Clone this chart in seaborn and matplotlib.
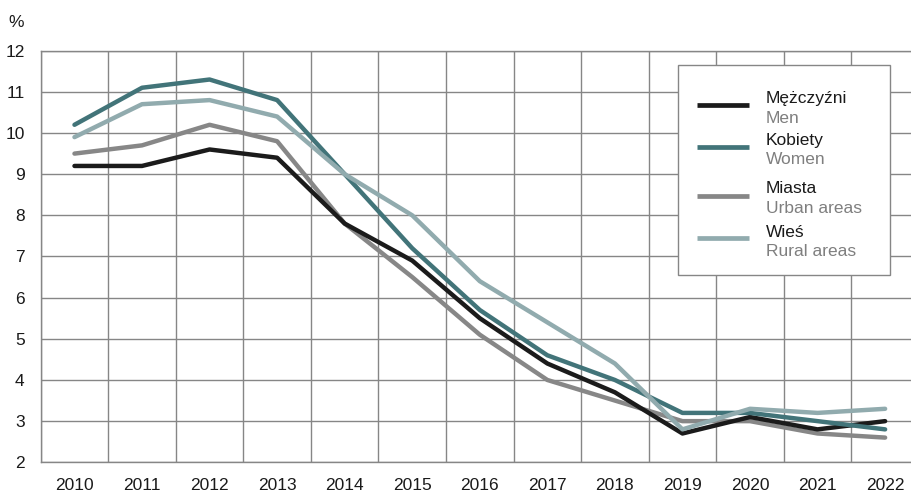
import pandas as pd
import numpy as np
import matplotlib.pyplot as plt
from matplotlib.lines import Line2D
from matplotlib.patches import Rectangle
import seaborn as sns

# Dane (%)
years = list(range(2010, 2023))
men = [9.2, 9.2, 9.6, 9.4, 7.8, 6.9, 5.5, 4.4, 3.7, 2.7, 3.1, 2.8, 3.0]
women = [10.2, 11.1, 11.3, 10.8, 9.0, 7.2, 5.7, 4.6, 4.0, 3.2, 3.2, 3.0, 2.8]
urban = [9.5, 9.7, 10.2, 9.8, 7.8, 6.5, 5.1, 4.0, 3.5, 3.0, 3.0, 2.7, 2.6]
rural = [9.9, 10.7, 10.8, 10.4, 9.0, 8.0, 6.4, 5.4, 4.4, 2.8, 3.3, 3.2, 3.3]

names_pl = ['Mężczyźni', 'Kobiety', 'Miasta', 'Wieś']
names_en = ['Men', 'Women', 'Urban areas', 'Rural areas']
colors = ['#1b1b1b', '#427479', '#878787', '#91abae']

df = pd.DataFrame({
    'year': years * 4,
    'value': men + women + urban + rural,
    'series': [n for n in names_pl for _ in years],
})

sns.set_style('white')
plt.rcParams['font.family'] = ['Liberation Sans', 'DejaVu Sans']
plt.rcParams['font.size'] = 12.5

W, H = 912, 494
fig = plt.figure(figsize=(W / 100, H / 100), dpi=100)
ax = fig.add_axes([40.7 / W, 1 - 462.3 / H, 878.2 / W, 411.6 / H])

grid_c = '#868686'
sns.lineplot(data=df, x='year', y='value', hue='series',
             hue_order=['Miasta', 'Mężczyźni', 'Kobiety', 'Wieś'],
             palette=dict(zip(names_pl, colors)), linewidth=3.2,
             legend=False, ax=ax)

ax.set_xlim(2009.5, 2022.5)
ax.set_ylim(2, 12)
ax.set_yticks(range(2, 13))
ax.set_xticks(years)
ax.set_xticks(np.arange(2009.5, 2023, 1), minor=True)
ax.grid(which='minor', axis='x', color=grid_c, linewidth=1.0)
ax.grid(which='major', axis='y', color=grid_c, linewidth=1.0)
ax.grid(which='major', axis='x', visible=False)
ax.set_axisbelow(True)
ax.tick_params(which='both', length=0, pad=11.5, labelcolor='#1a1a1a', labelsize=12.5)
ax.set_xlabel('')
ax.set_ylabel('')
for s in ax.spines.values():
    s.set_color(grid_c)
    s.set_linewidth(1.0)

fig.text(8 / W, 1 - 27 / H, '%', ha='left', va='baseline', fontsize=12.5, color='#1a1a1a')


# legenda rysowana ręcznie (dwa kolory tekstu)
def fx(x):
    return x / W


def fy(y):
    return 1 - y / H


fig.add_artist(Rectangle((fx(678), fy(275)), fx(890) - fx(678), fy(65) - fy(275),
                         transform=fig.transFigure, facecolor='white',
                         edgecolor=grid_c, linewidth=1.0, zorder=5))
handle_y = [105, 147.5, 196.5, 237.5]
pl_base = [103.3, 145, 193.3, 236.7]
for i in range(4):
    fig.add_artist(Line2D([fx(697), fx(749)], [fy(handle_y[i])] * 2,
                          transform=fig.transFigure, color=colors[i],
                          linewidth=3.4, solid_capstyle='butt', zorder=6))
    fig.text(fx(766), fy(pl_base[i]), names_pl[i], ha='left', va='baseline',
             fontsize=12.5, color='#1a1a1a', zorder=6)
    fig.text(fx(766), fy(pl_base[i] + 19.5), names_en[i], ha='left', va='baseline',
             fontsize=12.5, color='#7f7f7f', zorder=6)

fig.savefig('out.png', dpi=100)
